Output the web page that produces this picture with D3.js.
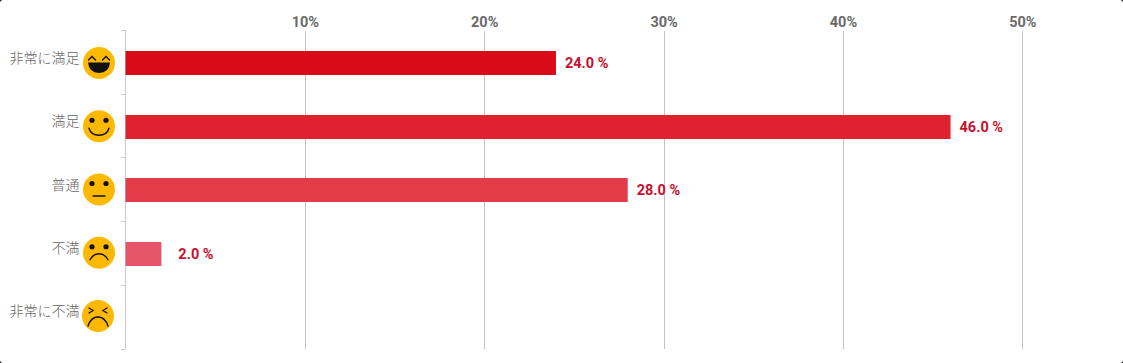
<!DOCTYPE html>
<html><head><meta charset="utf-8">
<script src="https://cdn.jsdelivr.net/npm/d3@7/dist/d3.min.js"></script>
<style>
html,body{margin:0;padding:0;background:#000;width:1123px;height:363px;overflow:hidden}
#c{width:1123px;height:363px;background:#fff;border-radius:3px;overflow:hidden}
svg{display:block}
</style></head><body><div id="c"></div>
<script>
const categories=["非常に満足","満足","普通","不満","非常に不満"];
const values=[24,46,28,2,0];
const barColors=["#d90b19","#e02130","#e33b48","#e45668","#e45668"];
const faces=["laugh","smile","neutral","sad","angry"];
const tickValues=[10,20,30,40,50];

const W=1123,H=363;
const svg=d3.select("#c").append("svg").attr("width",W).attr("height",H);
const x=d3.scaleLinear().domain([0,50]).range([125.5,1022.3]);
const y=d3.scaleBand().domain(categories).range([30,348.5]);
const faceY=d3.scalePoint().domain(categories).range([63,316]);
const rowY=c=>y(c)+y.bandwidth()/2+1;

// grid
svg.selectAll("line.grid").data(tickValues).join("line").attr("class","grid")
  .attr("x1",d=>Math.round(x(d))+.5).attr("x2",d=>Math.round(x(d))+.5).attr("y1",31).attr("y2",349)
  .attr("stroke","#c4c4c4").attr("stroke-width",1);

// top axis labels
const axTop=d3.axisTop(x).tickValues(tickValues).tickFormat(d=>d+"%").tickSize(0).tickPadding(0);
const gTop=svg.append("g").attr("transform","translate(0,27)").call(axTop);
gTop.select(".domain").remove();
gTop.selectAll("text").attr("font-family","Roboto").attr("font-size",14.5).attr("font-weight",700).attr("fill","#6a6a6a");

// left axis
svg.append("line").attr("x1",125.5).attr("x2",125.5).attr("y1",30).attr("y2",349).attr("stroke","#c8ccd0");
const boundaries=categories.map(c=>y(c)).concat([y.range()[1]]);
svg.selectAll("line.yt").data(boundaries).join("line").attr("class","yt")
  .attr("x1",121).attr("x2",125.5).attr("y1",d=>Math.round(d)+.5).attr("y2",d=>Math.round(d)+.5)
  .attr("stroke","#c8c8c8");

// bars
svg.selectAll("rect.bar").data(categories).join("rect").attr("class","bar")
  .attr("x",x(0)).attr("y",c=>Math.round(rowY(c)-12)).attr("height",24)
  .attr("width",(c,i)=>x(values[i])-x(0)).attr("fill",(c,i)=>barColors[i])
  .attr("display",(c,i)=>values[i]>0?null:"none");

// value labels
svg.selectAll("text.val").data(categories.filter((c,i)=>values[i]>0)).join("text").attr("class","val")
  .attr("x",c=>{const v=values[categories.indexOf(c)];return Math.max(x(v)+9,x(2)+17)})
  .attr("y",c=>rowY(c)+5.2)
  .attr("font-family","Roboto").attr("font-size",14.5).attr("font-weight",700).attr("fill","#c8102e")
  .text(c=>values[categories.indexOf(c)].toFixed(1)+" %");

// category labels
svg.selectAll("text.cat").data(categories).join("text").attr("class","cat")
  .attr("x",79.5).attr("y",c=>faceY(c)).attr("text-anchor","end")
  .attr("font-family","'Noto Sans CJK JP'").attr("font-weight",300).attr("font-size",14).attr("fill","#666")
  .text(c=>c);

// faces
const faceG=svg.selectAll("g.face").data(categories).join("g").attr("class","face")
  .attr("transform",(c,i)=>`translate(${i==4?98:99},${faceY(c)})`);
faceG.append("circle").attr("r",16).attr("fill","#fdb900");
const stroke=g=>g.attr("fill","none").attr("stroke","#111").attr("stroke-width",1.4).attr("stroke-linecap","round");
faceG.each(function(c,i){
  const g=d3.select(this), f=faces[i];
  const eyes=()=>[-7,7].forEach(e=>g.append("circle").attr("cx",e).attr("cy",-6).attr("r",2.6).attr("fill","#111"));
  if(f==="laugh"){
    [-7,7].forEach(e=>g.append("path").attr("d",`M${e-3.5},-3 L${e},-6.5 L${e+3.5},-3`).call(stroke));
    g.append("path").attr("d","M-11,-0.5 H11 Q10,10 0,10 Q-10,10 -11,-0.5 Z").attr("fill","#111");
  } else if(f==="smile"){
    eyes();
    g.append("path").attr("d","M-10,2 Q-8,9 0,9 Q8,9 10,2").call(stroke);
  } else if(f==="neutral"){
    eyes();
    g.append("path").attr("d","M-6,6.5 H6").call(stroke);
  } else if(f==="sad"){
    eyes();
    g.append("path").attr("d","M-9,7 Q-6,1 0,1 Q6,1 9,7").call(stroke);
  } else {
    g.append("path").attr("d","M-9,-8 L-5,-5.5 L-9,-3").call(stroke);
    g.append("path").attr("d","M9,-8 L5,-5.5 L9,-3").call(stroke);
    g.append("path").attr("d","M-10,10 Q-7,1 0,1 Q7,1 10,10").call(stroke);
  }
});
</script></body></html>
